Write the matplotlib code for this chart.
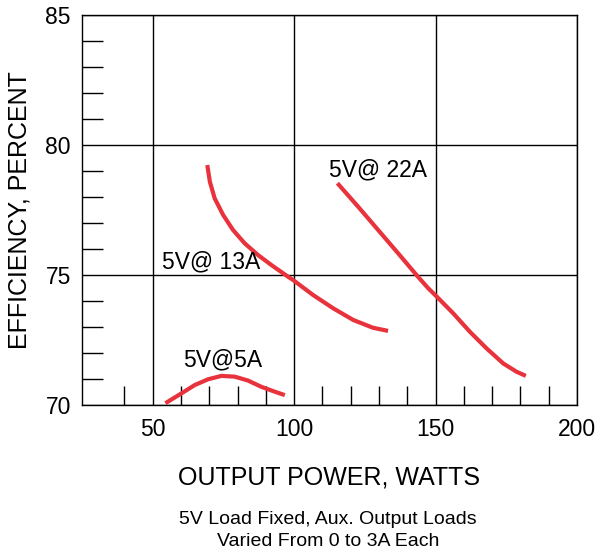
import matplotlib
matplotlib.use('Agg')
import matplotlib.pyplot as plt
from matplotlib.ticker import FixedLocator

plt.rcParams['font.family'] = ['Liberation Sans', 'DejaVu Sans']

# efficiency curves (watts, percent)
p_5a = [54.5, 60.2, 64.9, 69.6, 74.3, 79.0, 83.7, 88.4, 93.2, 96.7]
eff_5a = [70.07, 70.45, 70.77, 70.99, 71.12, 71.09, 70.94, 70.70, 70.51, 70.38]

p_13a = [69.3, 70.2, 71.9, 74.9, 78.4, 82.5, 87.2, 92.0, 97.9, 99.6,
         106.7, 113.8, 120.9, 127.9, 133.2]
eff_13a = [79.23, 78.59, 77.95, 77.31, 76.73, 76.22, 75.77, 75.38, 74.93, 74.81,
           74.23, 73.72, 73.27, 72.97, 72.85]

p_22a = [115.3, 122.6, 129.7, 136.8, 143.8, 147.4, 150.4, 156.2, 162.1,
         168.0, 173.9, 178.6, 181.9]
eff_22a = [78.53, 77.63, 76.73, 75.83, 74.93, 74.49, 74.17, 73.53, 72.82,
           72.18, 71.60, 71.28, 71.12]

curve_labels = ['5V@ 22A', '5V@ 13A', '5V@5A']
x_major = [50, 100, 150, 200]
y_major = [70, 75, 80, 85]
x_minor = [40, 60, 70, 80, 90, 110, 120, 130, 140, 160, 170, 180, 190]
y_minor = [71, 72, 73, 74, 76, 77, 78, 79, 81, 82, 83, 84]

red = '#e8323c'

fig = plt.figure(figsize=(6.02, 5.52), dpi=100)
ax = fig.add_axes([0.1362, 0.2663, 0.8223, 0.7065])

for px, py in [(p_5a, eff_5a), (p_13a, eff_13a), (p_22a, eff_22a)]:
    ax.plot(px, py, color=red, lw=3, solid_capstyle='butt', solid_joinstyle='round')

ax.text(112.3, 79.04, curve_labels[0], fontsize=16.5, va='center', ha='left')
ax.text(53.3, 75.5, curve_labels[1], fontsize=16.5, va='center', ha='left')
ax.text(60.8, 71.73, curve_labels[2], fontsize=16.5, va='center', ha='left')

ax.set_xlim(25, 200)
ax.set_ylim(70, 85)
ax.xaxis.set_major_locator(FixedLocator(x_major))
ax.yaxis.set_major_locator(FixedLocator(y_major))
ax.xaxis.set_minor_locator(FixedLocator(x_minor))
ax.yaxis.set_minor_locator(FixedLocator(y_minor))
ax.grid(True, which='major', color='black', lw=1.0)

ax.tick_params(which='major', length=0, labelsize=16.5)
ax.tick_params(axis='x', which='major', pad=9)
ax.tick_params(axis='y', which='major', pad=8)
ax.tick_params(axis='y', which='minor', direction='in', length=15, width=1.0)
ax.tick_params(axis='x', which='minor', direction='in', length=13.7, width=1.0)
for s in ax.spines.values():
    s.set_linewidth(1.0)

ax.set_ylabel('EFFICIENCY, PERCENT', fontsize=18, labelpad=10)
ax.set_xlabel('OUTPUT POWER, WATTS', fontsize=18, labelpad=18)

fig.text(0.545, 1 - 520 / 552, '5V Load Fixed, Aux. Output Loads', fontsize=14, ha='center', va='center')
fig.text(0.545, 1 - 541 / 552, 'Varied From 0 to 3A Each', fontsize=14, ha='center', va='center')

fig.savefig('out.png', dpi=100)
